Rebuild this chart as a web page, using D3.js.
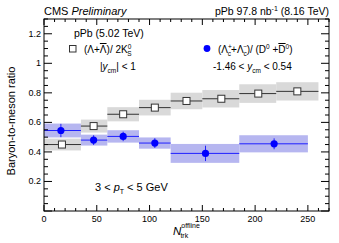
<!DOCTYPE html>
<html>
<head>
<meta charset="utf-8">
<script src="https://cdn.jsdelivr.net/npm/d3@7"></script>
<style>
body { margin: 0; background: #fff; }
text { font-family: "Liberation Sans", Arial, sans-serif; fill: #000; }
</style>
</head>
<body>
<svg id="chart"></svg>
<script>
// Lambda / 2K0S  (5.02 TeV)
var lamLo = [0, 35, 60, 90, 120, 150, 185, 220];
var lamHi = [35, 60, 90, 120, 150, 185, 220, 260];
var lamX = [17, 47, 75, 105, 135, 168, 203, 240];
var lamY = [0.45, 0.575, 0.655, 0.70, 0.745, 0.76, 0.795, 0.81];
var lamSys = [0.04, 0.044, 0.048, 0.053, 0.056, 0.059, 0.063, 0.062];

// Lambda_c / D0  (8.16 TeV)
var lcLo = [0, 35, 60, 90, 120, 185];
var lcHi = [35, 60, 90, 120, 185, 250];
var lcX = [16, 47, 75, 105, 153, 218];
var lcY = [0.545, 0.48, 0.505, 0.46, 0.39, 0.455];
var lcStat = [0.045, 0.033, 0.032, 0.033, 0.052, 0.037];
var lcSys = [0.047, 0.037, 0.042, 0.038, 0.064, 0.058];

var xTicks = [0, 50, 100, 150, 200, 250];
var yTicks = [0.2, 0.4, 0.6, 0.8, 1, 1.2];

var margin = {top: 19, right: 10, bottom: 32, left: 44},
	width = 339 - margin.left - margin.right,
	height = 243 - margin.top - margin.bottom;

var svg = d3.select("#chart")
	.attr("width", 339)
	.attr("height", 243);

var chart = svg.append("g")
	.attr("transform", "translate(" + margin.left + "," + margin.top + ")");

var x = d3.scaleLinear().domain([0, 270]).range([0, width]);
var y = d3.scaleLinear().domain([0, 1.3]).range([height, 0]);

// systematic boxes
chart.selectAll(".lamsys")
	.data(lamY)
  .enter().append("rect")
	.attr("x", function(d, i) { return x(lamLo[i]); })
	.attr("width", function(d, i) { return x(lamHi[i]) - x(lamLo[i]); })
	.attr("y", function(d, i) { return y(d + lamSys[i]); })
	.attr("height", function(d, i) { return y(d - lamSys[i]) - y(d + lamSys[i]); })
	.attr("fill", "#d9d9d9");

chart.selectAll(".lcsys")
	.data(lcY)
  .enter().append("rect")
	.attr("x", function(d, i) { return x(lcLo[i]); })
	.attr("width", function(d, i) { return x(lcHi[i]) - x(lcLo[i]); })
	.attr("y", function(d, i) { return y(d + lcSys[i]); })
	.attr("height", function(d, i) { return y(d - lcSys[i]) - y(d + lcSys[i]); })
	.attr("fill", "rgb(182,182,240)");

// horizontal bin lines
chart.selectAll(".lamline")
	.data(lamY)
  .enter().append("line")
	.attr("x1", function(d, i) { return x(lamLo[i]); })
	.attr("x2", function(d, i) { return x(lamHi[i]); })
	.attr("y1", function(d) { return y(d); })
	.attr("y2", function(d) { return y(d); })
	.attr("stroke", "#333")
	.attr("stroke-width", 1);

chart.selectAll(".lcline")
	.data(lcY)
  .enter().append("line")
	.attr("x1", function(d, i) { return x(lcLo[i]); })
	.attr("x2", function(d, i) { return x(lcHi[i]); })
	.attr("y1", function(d) { return y(d); })
	.attr("y2", function(d) { return y(d); })
	.attr("stroke", "#2020ff")
	.attr("stroke-width", 1);

chart.selectAll(".lcstat")
	.data(lcY)
  .enter().append("line")
	.attr("x1", function(d, i) { return x(lcX[i]); })
	.attr("x2", function(d, i) { return x(lcX[i]); })
	.attr("y1", function(d, i) { return y(d + lcStat[i]); })
	.attr("y2", function(d, i) { return y(d - lcStat[i]); })
	.attr("stroke", "#2020ff")
	.attr("stroke-width", 1);

// markers
chart.selectAll(".lampt")
	.data(lamY)
  .enter().append("rect")
	.attr("x", function(d, i) { return x(lamX[i]) - 3.5; })
	.attr("y", function(d) { return y(d) - 3.5; })
	.attr("width", 7)
	.attr("height", 7)
	.attr("fill", "#fff")
	.attr("stroke", "#333")
	.attr("stroke-width", 1);

chart.selectAll(".lcpt")
	.data(lcY)
  .enter().append("circle")
	.attr("cx", function(d, i) { return x(lcX[i]); })
	.attr("cy", function(d) { return y(d); })
	.attr("r", 3.6)
	.attr("fill", "#0000ff");

// frame + inward ticks on all sides
chart.append("rect")
	.attr("width", width)
	.attr("height", height)
	.attr("fill", "none")
	.attr("stroke", "#000")
	.attr("stroke-width", 1);

var xMinor = d3.range(0, 271, 10);
chart.selectAll(".xt")
	.data(xMinor)
  .enter().append("path")
	.attr("d", function(d) {
		var len = d % 50 === 0 ? 6 : 3;
		var px = x(d);
		return "M" + px + "," + height + "v" + (-len) + "M" + px + ",0v" + len;
	})
	.attr("stroke", "#000");

var yMinor = d3.range(0, 27).map(function(i) { return i * 0.05; });
chart.selectAll(".yt")
	.data(yMinor)
  .enter().append("path")
	.attr("d", function(d, i) {
		var len = i % 4 === 0 ? 8 : 4;
		var py = y(d);
		return "M0," + py + "h" + len + "M" + width + "," + py + "h" + (-len);
	})
	.attr("stroke", "#000");

chart.selectAll(".xl")
	.data(xTicks)
  .enter().append("text")
	.attr("x", function(d) { return x(d); })
	.attr("y", height + 11)
	.attr("text-anchor", "middle")
	.attr("font-size", 9)
	.text(function(d) { return d; });

chart.selectAll(".yl")
	.data(yTicks)
  .enter().append("text")
	.attr("x", -3)
	.attr("y", function(d) { return y(d) + 3; })
	.attr("text-anchor", "end")
	.attr("font-size", 9)
	.text(function(d) { return d; });

// helper for rich text pieces: [text, dy, size, italic, overline, dx]
function rich(g, px, py, size, parts, anchor) {
	var t = g.append("text")
		.attr("x", px)
		.attr("y", py)
		.attr("font-size", size)
		.attr("text-anchor", anchor || "start");
	parts.forEach(function(p) {
		var s = t.append("tspan").text(p[0]);
		if (p[1]) s.attr("dy", p[1]);
		if (p[2]) s.attr("font-size", p[2]);
		if (p[3]) s.attr("font-style", "italic");
		if (p[4]) s.attr("text-decoration", "overline");
		if (p[5]) s.attr("dx", p[5]);
	});
	return t;
}

// titles
rich(svg, 44, 15, 11, [["CMS "], ["Preliminary", 0, 0, true]]);
rich(svg, 329, 15, 10.5, [["pPb 97.8 nb"], ["-1", -4, 7], [" (8.16 TeV)", 4]], "end");

// axis titles
svg.append("text")
	.attr("transform", "translate(15,121) rotate(-90)")
	.attr("text-anchor", "middle")
	.attr("font-size", 11)
	.text("Baryon-to-meson ratio");

rich(svg, 173, 235, 11.5, [["N", 0, 0, true], ["offline", -7, 7], ["trk", 10, 7, false, false, -19.5]]);

// legend left
rich(svg, 74, 37, 10.5, [["pPb (5.02 TeV)"]]);
svg.append("rect")
	.attr("x", 69.5).attr("y", 45.5)
	.attr("width", 6.5).attr("height", 6.5)
	.attr("fill", "#fff").attr("stroke", "#333");
rich(svg, 84, 53, 10, [["(Λ+"], ["Λ", 0, 0, false, true], [")/ 2K"], ["0", -4, 6.5], ["S", 7, 6.5, false, false, -4]]);
rich(svg, 100, 70, 10, [["|"], ["y", 0, 0, true], ["cm", 3, 6.5], ["| < 1", -3]]);

// legend right
svg.append("circle")
	.attr("cx", 207).attr("cy", 48.5).attr("r", 3.4)
	.attr("fill", "#0000ff");
rich(svg, 218, 53, 10, [["(Λ"], ["+", -4, 6.5], ["c", 7, 6.5, false, false, -4], ["+Λ", -3], ["−", -4, 6.5], ["c", 7, 6.5, false, false, -4], [")/ (D", -3], ["0", -4, 6.5], [" +", 4], ["D", 0, 0, false, true], ["0", -4, 6.5], [")", 4]]);
rich(svg, 213, 70, 10, [["-1.46 < "], ["y", 0, 0, true], ["cm", 3, 6.5], [" < 0.54", -3]]);

// kinematic label
rich(svg, 95, 191, 11, [["3 < "], ["p", 0, 0, true], ["T", 3, 7], [" < 5 GeV", -3]]);
</script>
</body>
</html>
